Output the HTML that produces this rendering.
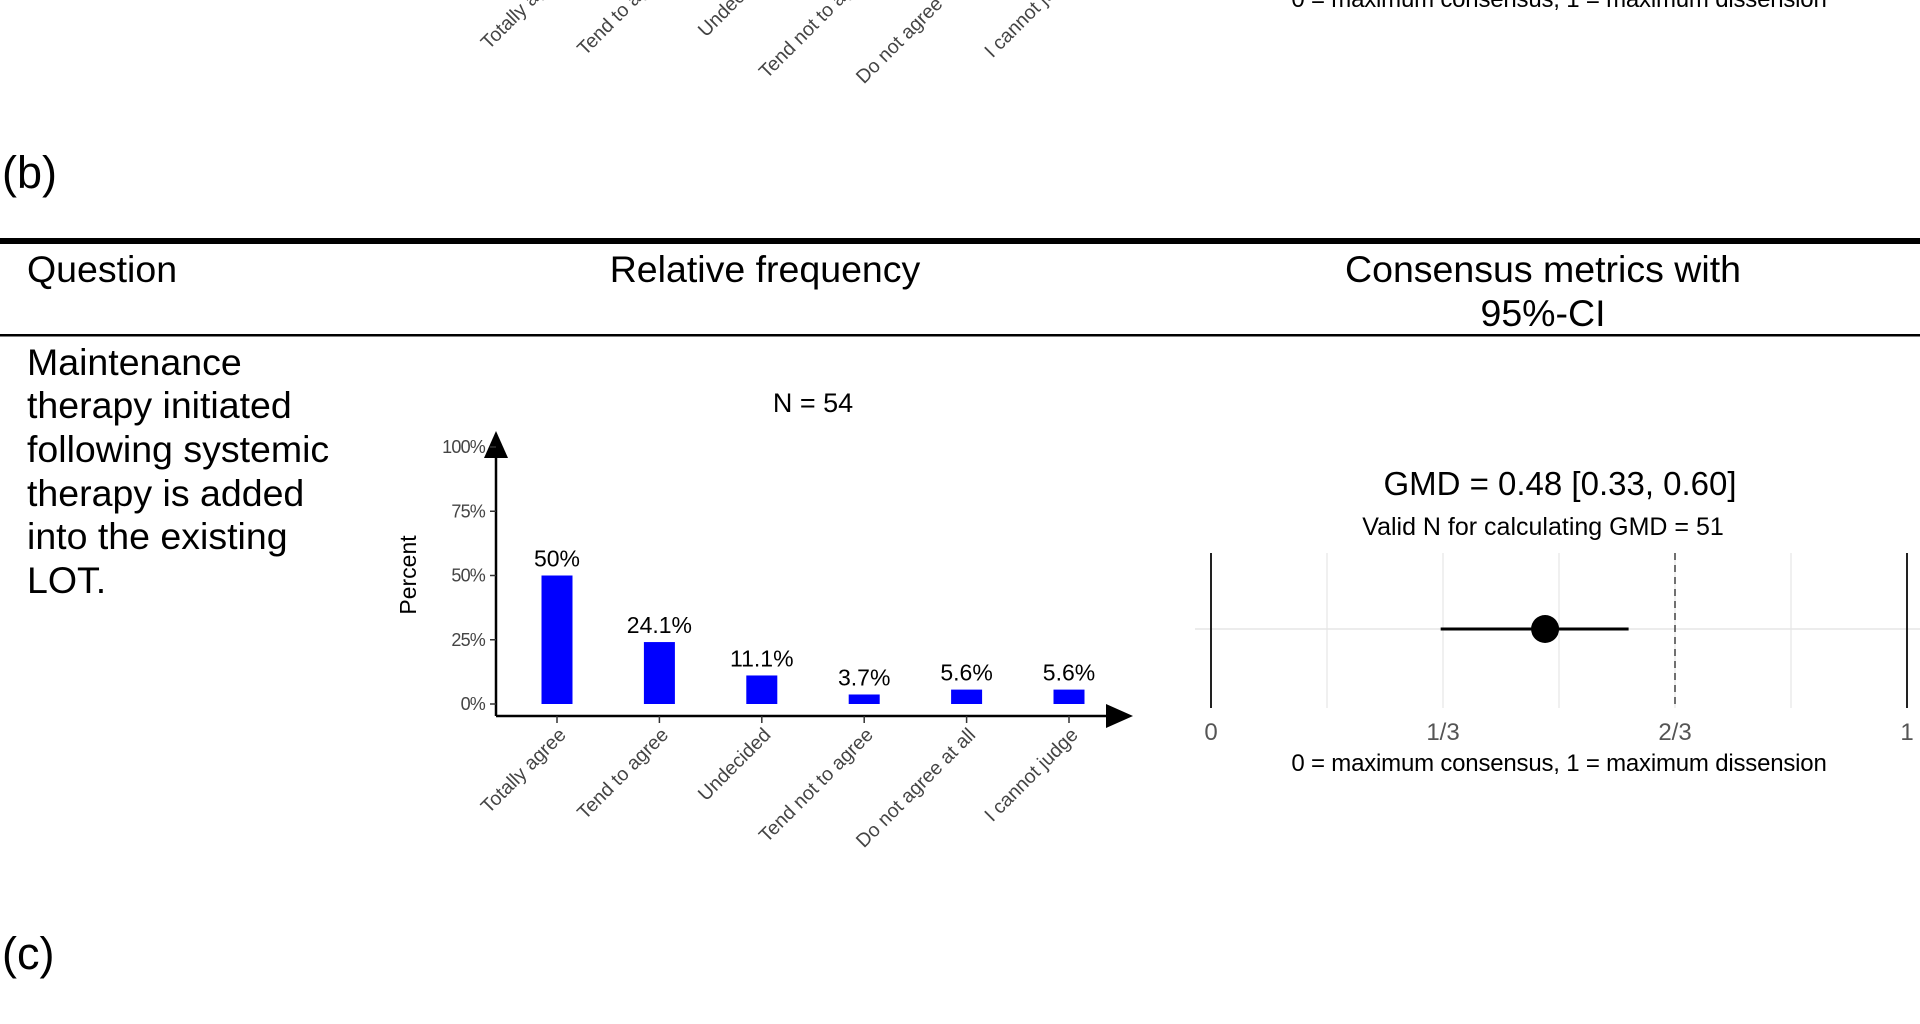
<!DOCTYPE html>
<html><head><meta charset="utf-8"><style>
html,body{margin:0;padding:0;background:#fff;}
svg{display:block;font-family:"Liberation Sans",Arial,sans-serif;}
</style></head><body>
<svg id="fig" width="1920" height="1024" viewBox="0 0 1920 1024" xmlns="http://www.w3.org/2000/svg">
<g id="panelTop" transform="translate(0,-764)"></g>
<text x="2" y="188" font-size="45" fill="#000">(b)</text>
<rect x="0" y="238" width="1920" height="6" fill="#000"/>
<text x="27" y="282" font-size="37.5">Question</text>
<text x="765" y="282" font-size="37.5" text-anchor="middle">Relative frequency</text>
<text x="1543" y="282" font-size="37.5" text-anchor="middle">Consensus metrics with</text>
<text x="1543" y="326" font-size="37.5" text-anchor="middle">95%-CI</text>
<rect x="0" y="334" width="1920" height="2.5" fill="#000"/>
<g font-size="37.5">
<text x="27" y="375">Maintenance</text>
<text x="27" y="418">therapy initiated</text>
<text x="27" y="462">following systemic</text>
<text x="27" y="506">therapy is added</text>
<text x="27" y="549">into the existing</text>
<text x="27" y="593">LOT.</text>
</g>
<g id="panelMain"></g>
<text x="2" y="969" font-size="45" fill="#000">(c)</text>
</svg>
<script>
const categories = ["Totally agree","Tend to agree","Undecided","Tend not to agree","Do not agree at all","I cannot judge"];
const percentValues = [50, 24.1, 11.1, 3.7, 5.6, 5.6];
const valueLabels = ["50%","24.1%","11.1%","3.7%","5.6%","5.6%"];
const yTicks = [0, 25, 50, 75, 100];
const yTickLabels = ["0%","25%","50%","75%","100%"];
const nTotal = 54;
const gmd = [0.48];
const gmdLower = [0.33];
const gmdUpper = [0.60];
const validN = 51;
const gmdTicks = [0, 1/3, 2/3, 1];
const gmdTickLabels = ["0","1/3","2/3","1"];
const gmdThreshold = 2/3;

const NS = "http://www.w3.org/2000/svg";
function mk(tag, attrs, parent, text){
  const e = document.createElementNS(NS, tag);
  for (const k in attrs) e.setAttribute(k, attrs[k]);
  if (text !== undefined) e.textContent = text;
  parent.appendChild(e);
  return e;
}
const yScale = v => 704 - v/100*257;
const xBand = i => 557 + i*102.4;
const xG = v => 1211 + v*696;

function drawPanel(g){
  let e;
  e = mk("text",{x:813,y:412,"font-size":27,"text-anchor":"middle"},g,"N = "+nTotal);
  
  
  e = mk("line",{x1:496,y1:716,x2:496,y2:450,stroke:"#000","stroke-width":2.5},g);
  
  
  e = mk("polygon",{points:"496,431 484,458 508,458",fill:"#000"},g);
  
  
  e = mk("line",{x1:496,y1:716,x2:1110,y2:716,stroke:"#000","stroke-width":2.5},g);
  
  
  e = mk("polygon",{points:"1133,716 1106,704 1106,728",fill:"#000"},g);
  
  
  e = mk("text",{x:0,y:0,"font-size":23,"text-anchor":"middle",transform:"translate(416,575) rotate(-90)"},g,"Percent");
  
  
  yTicks.forEach((t,i)=>{
    const y = yScale(t);
    let l = mk("line",{x1:490,y1:y,x2:496,y2:y,stroke:"#333","stroke-width":1.5},g);
    
    
    let tx = mk("text",{x:485,y:y+6,"font-size":18,fill:"#444","text-anchor":"end","letter-spacing":"-0.8"},g,yTickLabels[i]);
    
    
  });
  categories.forEach((c,i)=>{
    const x = xBand(i);
    const top = yScale(percentValues[i]);
    let r = mk("rect",{x:x-15.5,y:top,width:31,height:704-top,fill:"#0000ff"},g);
    
    
    let v = mk("text",{x:x,y:top-9,"font-size":23,"text-anchor":"middle"},g,valueLabels[i]);
    
    
    let tk = mk("line",{x1:x,y1:716,x2:x,y2:723,stroke:"#333","stroke-width":1.5},g);
    
    
    let cl = mk("text",{x:0,y:0,"font-size":19.5,fill:"#444","text-anchor":"end",transform:"translate("+(x+10)+",736) rotate(-45)"},g,c);
    
    
  });
  e = mk("text",{x:1560,y:495,"font-size":33,"text-anchor":"middle"},g,"GMD = "+gmd[0].toFixed(2)+" ["+gmdLower[0].toFixed(2)+", "+gmdUpper[0].toFixed(2)+"]");
  
  
  e = mk("text",{x:1543,y:535,"font-size":25,"text-anchor":"middle"},g,"Valid N for calculating GMD = "+validN);
  
  
  for (let k=1;k<6;k++){
    let gl = mk("line",{x1:xG(k/6),y1:553,x2:xG(k/6),y2:708,stroke:"#ebebeb","stroke-width":1.5},g);
    
    
  }
  e = mk("line",{x1:1195,y1:629,x2:1920,y2:629,stroke:"#e6e6e6","stroke-width":1.5},g);
  
  
  [0,1].forEach(v=>{
    let b = mk("line",{x1:xG(v),y1:553,x2:xG(v),y2:708,stroke:"#222","stroke-width":2},g);
    
    
  });
  e = mk("line",{x1:xG(gmdThreshold),y1:553,x2:xG(gmdThreshold),y2:708,stroke:"#444","stroke-width":1.5,"stroke-dasharray":"7,5"},g);
  
  
  e = mk("line",{x1:xG(gmdLower[0]),y1:629,x2:xG(gmdUpper[0]),y2:629,stroke:"#000","stroke-width":3},g);
  
  
  e = mk("circle",{cx:xG(gmd[0]),cy:629,r:14,fill:"#000"},g);
  
  
  gmdTicks.forEach((t,i)=>{
    let tl = mk("text",{x:xG(t),y:740,"font-size":24,fill:"#555","text-anchor":"middle"},g,gmdTickLabels[i]);
    
    
  });
  e = mk("text",{x:1559,y:771,"font-size":24,"text-anchor":"middle","letter-spacing":"-0.2"},g,"0 = maximum consensus, 1 = maximum dissension");
  
  
}
drawPanel(document.getElementById('panelMain'));
drawPanel(document.getElementById('panelTop'));
</script>
</body></html>
